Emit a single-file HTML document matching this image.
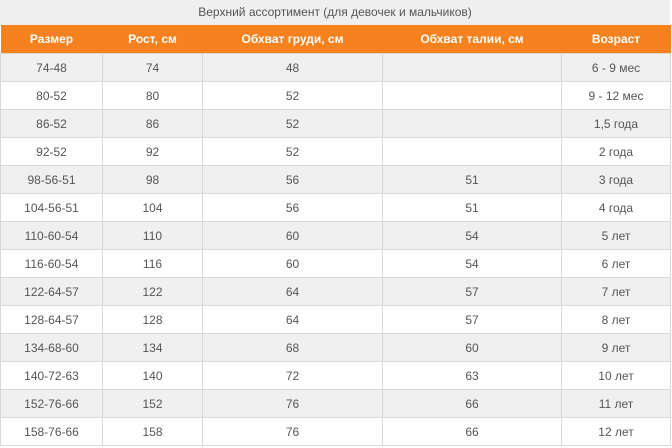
<!DOCTYPE html>
<html><head><meta charset="utf-8"><style>
body{margin:0;background:#fff;width:672px;height:448px;overflow:hidden;font-family:"Liberation Sans","DejaVu Sans",sans-serif;}
.t{height:25px;background:#efefef;color:#555;font-size:12px;text-align:center;line-height:25px;width:670px}
table{border-collapse:collapse;width:670px;table-layout:fixed}
th{background:#f5821f;color:#fff;font-size:12px;font-weight:bold;height:28px;padding:0;border:none}
td{height:27px;padding:0;border:1px solid #d9d9d9;text-align:center;font-size:12px;color:#555}
tr:nth-child(even) td{background:#f0f0f0}
tr:nth-child(odd) td{background:#fff}
</style></head><body>
<div class="t">Верхний ассортимент (для девочек и мальчиков)</div>
<table>
<colgroup><col style="width:102px"><col style="width:100px"><col style="width:180px"><col style="width:179px"><col style="width:109px"></colgroup>
<tr><th>Размер</th><th>Рост, см</th><th>Обхват груди, см</th><th>Обхват талии, см</th><th>Возраст</th></tr>
<tr><td>74-48</td><td>74</td><td>48</td><td></td><td>6 - 9 мес</td></tr>
<tr><td>80-52</td><td>80</td><td>52</td><td></td><td>9 - 12 мес</td></tr>
<tr><td>86-52</td><td>86</td><td>52</td><td></td><td>1,5 года</td></tr>
<tr><td>92-52</td><td>92</td><td>52</td><td></td><td>2 года</td></tr>
<tr><td>98-56-51</td><td>98</td><td>56</td><td>51</td><td>3 года</td></tr>
<tr><td>104-56-51</td><td>104</td><td>56</td><td>51</td><td>4 года</td></tr>
<tr><td>110-60-54</td><td>110</td><td>60</td><td>54</td><td>5 лет</td></tr>
<tr><td>116-60-54</td><td>116</td><td>60</td><td>54</td><td>6 лет</td></tr>
<tr><td>122-64-57</td><td>122</td><td>64</td><td>57</td><td>7 лет</td></tr>
<tr><td>128-64-57</td><td>128</td><td>64</td><td>57</td><td>8 лет</td></tr>
<tr><td>134-68-60</td><td>134</td><td>68</td><td>60</td><td>9 лет</td></tr>
<tr><td>140-72-63</td><td>140</td><td>72</td><td>63</td><td>10 лет</td></tr>
<tr><td>152-76-66</td><td>152</td><td>76</td><td>66</td><td>11 лет</td></tr>
<tr><td>158-76-66</td><td>158</td><td>76</td><td>66</td><td>12 лет</td></tr>
</table>
</body></html>
